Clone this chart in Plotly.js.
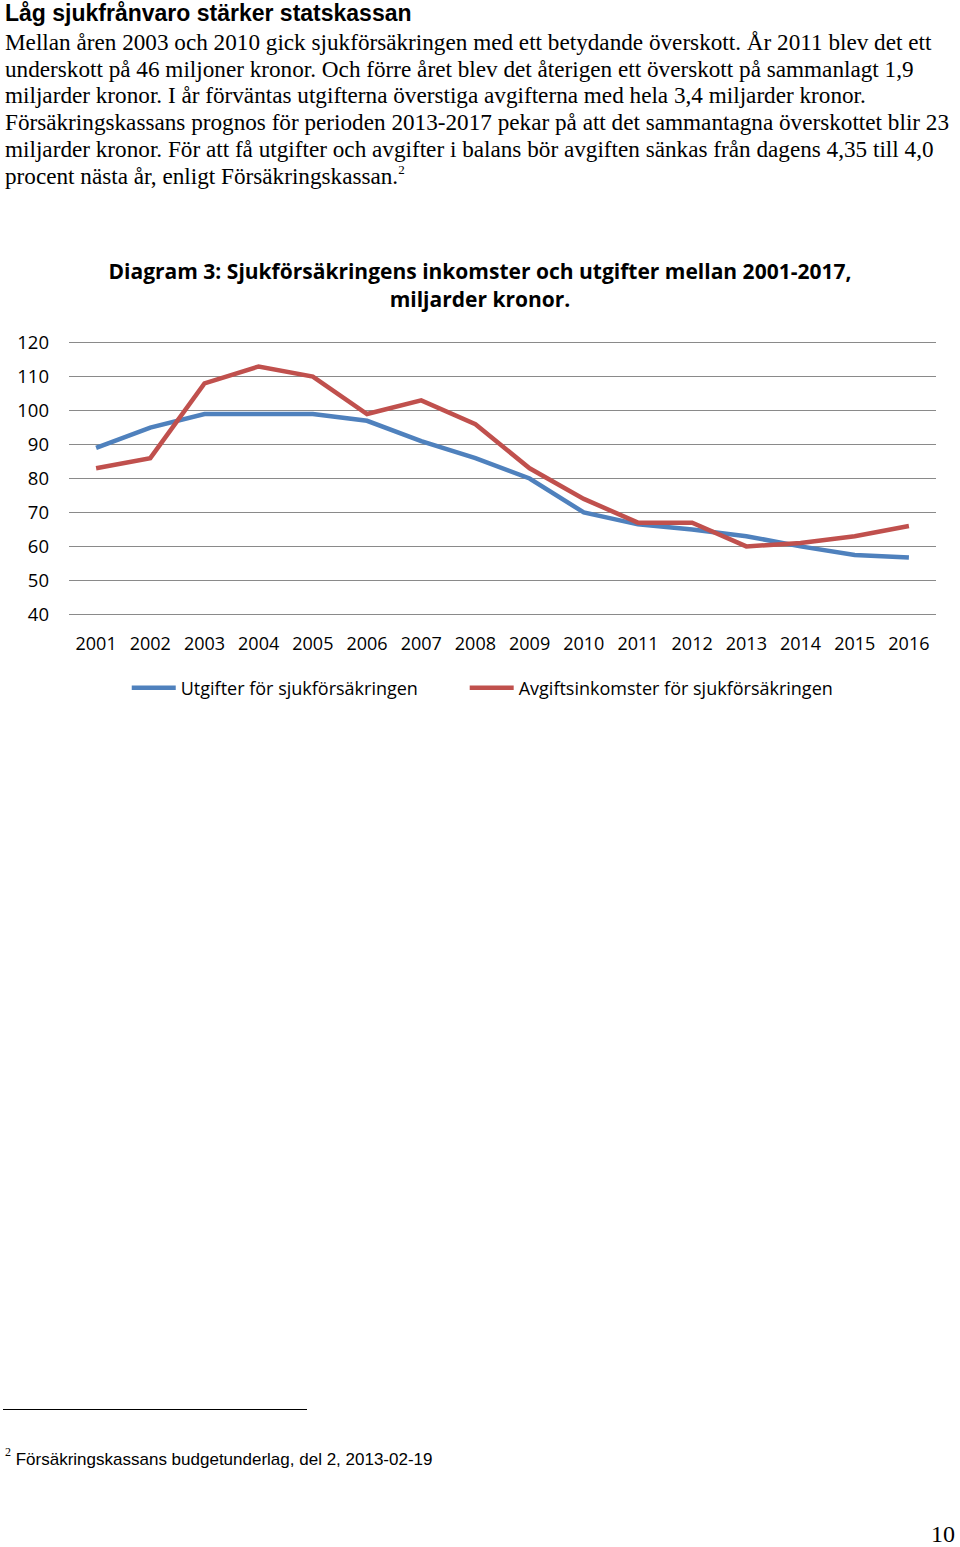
<!DOCTYPE html>
<html>
<head>
<meta charset="utf-8">
<script src="https://cdn.plot.ly/plotly-3.0.1.min.js"></script>
<style>
  html, body { margin: 0; padding: 0; background: #fff; }
  #page { position: relative; width: 960px; height: 1547px; overflow: hidden; background: #fff; }
  .heading { position: absolute; left: 5px; top: 0px; font-family: "Liberation Sans", Arial, sans-serif; font-weight: bold; font-size: 23px; line-height: 26px; color: #000; white-space: nowrap; }
  .body { position: absolute; left: 5px; top: 29px; font-family: "Liberation Serif", "Times New Roman", serif; font-size: 23.2px; line-height: 26.7px; color: #000; }
  .body div { white-space: nowrap; }
  sup { font-size: 13px; vertical-align: 10px; line-height: 0; }
  #chart { position: absolute; left: 0; top: 220px; width: 960px; height: 520px; }
  .rule { position: absolute; left: 3px; top: 1409px; width: 304px; height: 1px; background: #000; }
  .foot { position: absolute; left: 5px; top: 1450px; font-family: "Liberation Sans", Arial, sans-serif; font-size: 17px; color: #000; white-space: nowrap; }
  .foot sup { font-family: "Liberation Serif", serif; font-size: 12px; vertical-align: 9px; }
  .pagenum { position: absolute; left: 931px; top: 1524px; font-family: "Liberation Serif", "Times New Roman", serif; font-size: 24px; line-height: 20px; color: #000; white-space: nowrap; }
</style>
</head>
<body>
<div id="page">
  <div class="heading">Låg sjukfrånvaro stärker statskassan</div>
  <div class="body">
    <div>Mellan åren 2003 och 2010 gick sjukförsäkringen med ett betydande överskott. År 2011 blev det ett</div>
    <div>underskott på 46 miljoner kronor. Och förre året blev det återigen ett överskott på sammanlagt 1,9</div>
    <div>miljarder kronor. I år förväntas utgifterna överstiga avgifterna med hela 3,4 miljarder kronor.</div>
    <div>Försäkringskassans prognos för perioden 2013-2017 pekar på att det sammantagna överskottet blir 23</div>
    <div>miljarder kronor. För att få utgifter och avgifter i balans bör avgiften sänkas från dagens 4,35 till 4,0</div>
    <div>procent nästa år, enligt Försäkringskassan.<sup>2</sup></div>
  </div>
  <div id="chart"></div>
  <div class="rule"></div>
  <div class="foot"><sup>2</sup> Försäkringskassans budgetunderlag, del 2, 2013-02-19</div>
  <div class="pagenum">10</div>
</div>
<script>
const years = ["2001","2002","2003","2004","2005","2006","2007","2008","2009","2010","2011","2012","2013","2014","2015","2016"];
const utgifter = [89, 95, 99, 99, 99, 97, 91, 86, 80, 70, 66.5, 65, 63, 60, 57.5, 56.7];
const avgiftsinkomster = [83, 86, 108, 113, 110, 99, 103, 96, 83, 74, 67, 67, 60, 61, 63, 66];
const seriesNames = ["Utgifter för sjukförsäkringen", "Avgiftsinkomster för sjukförsäkringen"];
const yTicks = [40, 50, 60, 70, 80, 90, 100, 110, 120];

const chartFont = '"Open Sans", "Noto Sans", sans-serif';

const traces = [
  { x: years, y: utgifter, name: seriesNames[0], type: 'scatter', mode: 'lines',
    line: { color: '#4F81BD', width: 4.5 }, legend: 'legend' },
  { x: years, y: avgiftsinkomster, name: seriesNames[1], type: 'scatter', mode: 'lines',
    line: { color: '#C0504D', width: 4.5 }, legend: 'legend2' }
];

const legendCommon = {
  orientation: 'h', xanchor: 'left', y: -0.262, yanchor: 'middle',
  font: { size: 18, family: chartFont, color: '#000' }, itemwidth: 44,
  bgcolor: 'rgba(0,0,0,0)'
};

const layout = {
  width: 960, height: 520,
  margin: { l: 69, r: 24, t: 121, b: 124, pad: 0 },
  paper_bgcolor: '#ffffff', plot_bgcolor: '#ffffff',
  font: { family: chartFont, size: 18, color: '#000' },
  title: {
    text: '<b>Diagram 3: Sjukförsäkringens inkomster och utgifter mellan 2001-2017,<br>miljarder kronor.</b>',
    font: { family: chartFont, size: 21, color: '#000' },
    x: 0.5, xanchor: 'center', xref: 'container',
    y: 0.886, yanchor: 'top', yref: 'container'
  },
  xaxis: {
    type: 'category', tickvals: years, ticktext: years, range: [-0.5, 15.5],
    showgrid: false, zeroline: false, showline: false, ticks: '',
    ticklabelstandoff: 15, tickfont: { size: 18, family: chartFont }, automargin: false
  },
  yaxis: {
    range: [39.5, 120.5], tickvals: yTicks, ticktext: yTicks.map(String),
    showgrid: true, gridcolor: '#8a8a8a', gridwidth: 1.5,
    zeroline: false, showline: false, ticks: '',
    ticklabelstandoff: 19, tickfont: { size: 18.5, family: chartFont }, automargin: false
  },
  showlegend: true,
  legend: Object.assign({}, legendCommon, { x: 0.0666 }),
  legend2: Object.assign({}, legendCommon, { x: 0.4564 })
};

Plotly.newPlot('chart', traces, layout, { displayModeBar: false, staticPlot: true });
</script>
</body>
</html>
